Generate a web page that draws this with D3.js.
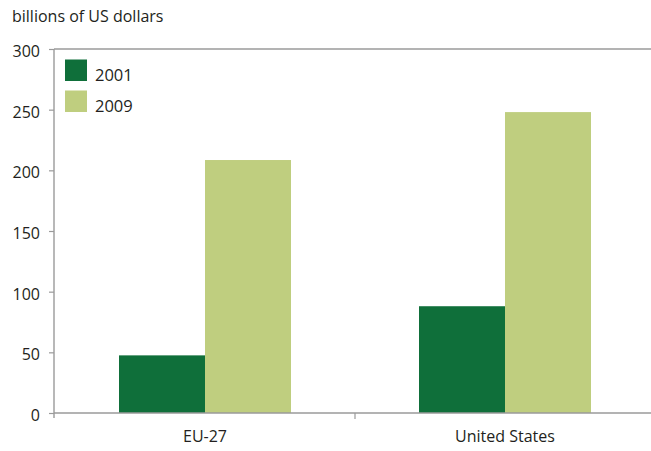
<!DOCTYPE html>
<html>
<head>
<meta charset="utf-8">
<script src="https://cdn.jsdelivr.net/npm/d3@7"></script>
<style>
  html, body { margin: 0; padding: 0; background: #fff; }
  svg { display: block; font-family: "Open Sans", sans-serif; }
</style>
</head>
<body>
<svg id="chart" width="651" height="451"></svg>
<script>
const categories = ["EU-27", "United States"];
const seriesNames = ["2001", "2009"];
const values2001 = [47.5, 88];
const values2009 = [208.5, 248];
const yTicks = [0, 50, 100, 150, 200, 250, 300];
const yTitle = "billions of US dollars";
const colors = ["#0f6f3a", "#bfce7f"];

(function () {
const svg = d3.select("#chart");
const mLeft = 54, mRight = 656, mTop = 49, mBottom = 413;
const axisColor = "#9a9a9a";
const textColor = "#231f20";

const series = [values2001, values2009];

const y = d3.scaleLinear().domain([0, 300]).range([mBottom, mTop]);
const x0 = d3.scaleBand().domain(categories).range([mLeft, mRight])
  .paddingInner(0.4267).paddingOuter(0.2167);
const x1 = d3.scaleBand().domain(seriesNames).range([0, x0.bandwidth()]).padding(0);

// Title
svg.append("text").attr("x", 12).attr("y", 22)
  .attr("font-size", 16).attr("fill", textColor).text(yTitle);

// Bars
categories.forEach((c, ci) => {
  seriesNames.forEach((s, si) => {
    const v = series[si][ci];
    svg.append("rect")
      .attr("x", x0(c) + x1(s))
      .attr("y", y(v))
      .attr("width", x1.bandwidth())
      .attr("height", y(0) - y(v))
      .attr("fill", colors[si]);
  });
});

// Top frame line
svg.append("line").attr("x1", mLeft).attr("x2", 651).attr("y1", y(300)).attr("y2", y(300))
  .attr("stroke", axisColor).attr("stroke-width", 1.4);

// Y axis
const yAxis = d3.axisLeft(y).tickValues(yTicks).tickSize(5).tickPadding(9);
const gy = svg.append("g").attr("transform", `translate(${mLeft},0)`).call(yAxis);
gy.select(".domain").remove();
gy.selectAll(".tick line").attr("stroke", axisColor).attr("stroke-width", 1.2);
gy.selectAll(".tick text").attr("font-size", 16).attr("fill", textColor)
  .attr("font-family", "Open Sans, sans-serif").attr("dy", "0.46em");
svg.append("line").attr("x1", mLeft).attr("x2", mLeft).attr("y1", y(300)).attr("y2", mBottom + 5)
  .attr("stroke", axisColor).attr("stroke-width", 1.4);

// X axis
svg.append("line").attr("x1", mLeft).attr("x2", 651).attr("y1", mBottom).attr("y2", mBottom)
  .attr("stroke", axisColor).attr("stroke-width", 1.4);
const xAxis = d3.axisBottom(x0).tickSize(0).tickPadding(0);
const gx = svg.append("g").attr("transform", `translate(0,${mBottom})`).call(xAxis);
gx.select(".domain").remove();
gx.selectAll(".tick text").attr("font-size", 16).attr("fill", textColor)
  .attr("font-family", "Open Sans, sans-serif").attr("dy", null).attr("y", 29);
// separator tick between categories
const sep = (x0(categories[0]) + x0.bandwidth() + x0(categories[1])) / 2;
svg.append("line").attr("x1", sep).attr("x2", sep).attr("y1", mBottom).attr("y2", mBottom + 6)
  .attr("stroke", axisColor).attr("stroke-width", 1.2);

// Legend
const legend = svg.append("g");
seriesNames.forEach((s, i) => {
  const ly = 59.5 + i * 31;
  legend.append("rect").attr("x", 65).attr("y", ly).attr("width", 22).attr("height", 21.5)
    .attr("fill", colors[i]);
  legend.append("text").attr("x", 95).attr("y", ly + 21.5)
    .attr("font-size", 16.5).attr("fill", textColor).text(s);
});
})();
</script>
</body>
</html>
